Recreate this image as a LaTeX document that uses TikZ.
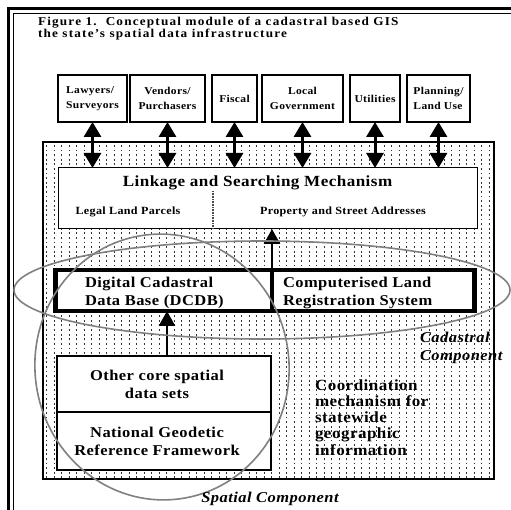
\documentclass[tikz,border=0pt]{standalone}
\usepackage{fontspec}
\setmainfont{Liberation Serif}[FakeStretch=1.1, LetterSpace=3]
\usetikzlibrary{arrows.meta}
\begin{document}
\begin{tikzpicture}[x=1pt,y=-1pt,
  every node/.style={inner sep=0pt, outer sep=0pt},
  party/.style={draw=black, line width=1.2pt, fill=white, minimum height=47pt,
    font=\bfseries\fontsize{10.5}{15}\selectfont},
  duplex/.style={line width=3pt,
    {Triangle[length=15pt,width=17pt]}-{Triangle[length=15pt,width=17pt]}},
  feed/.style={line width=2.5pt, -{Triangle[length=15pt,width=16pt]}},
  plainbox/.style={draw=black, fill=white, line width=1.3pt},
  heavybox/.style={draw=black, fill=white, line width=4.5pt},
  halo/.style={draw=black!50, line width=1.6pt},
  boxtext/.style={font=\bfseries\fontsize{15}{18}\selectfont},
  tag/.style={font=\bfseries\itshape\fontsize{15}{18}\selectfont},
  captext/.style={anchor=base west,
    font=\bfseries\fontsize{12}{10}\selectfont\addfontfeature{LetterSpace=10}},
]
\useasboundingbox (0,0) rectangle (511,510);
\fill[white] (0,0) rectangle (511,510);

% outer double frame, running off the page at right and bottom
\draw[line width=3pt] (8.7,515) -- (8.7,8.7) -- (515,8.7);
\draw[line width=1.2pt] (13.3,515) -- (13.3,13.3) -- (515,13.3);

% caption
\node[captext] (cap1) at (38,26)
  {Figure 1.\ \ Conceptual module of a cadastral based GIS};
\node[captext] (cap2) at (38,37.5)
  {the state's spatial data infrastructure};

% dotted coordination area
\draw[line width=1.5pt] (43,142) rectangle (494,479);
\begin{scope}
  \clip (44,143) rectangle (493,478);
  \foreach \r in {0,...,72}
    \draw[line width=1.8pt, dash pattern=on 1.3pt off 6.2pt, black!80]
      (46,146+\r*4.6) -- (493,146+\r*4.6);
\end{scope}

% user groups
\node[party, minimum width=69pt, align=left] (p1) at (92.5,98.5) {Lawyers/\\Surveyors};
\node[party, minimum width=75pt, align=center] (p2) at (167.5,98.5) {Vendors/\\Purchasers};
\node[party, minimum width=45pt] (p3) at (234.5,98.5) {Fiscal};
\node[party, minimum width=81pt, align=center] (p4) at (302.5,98.5) {Local\\Government};
\node[party, minimum width=50pt] (p5) at (375,98.5) {Utilities};
\node[party, minimum width=63pt, align=left] (p6) at (438.5,98.5) {Planning/\\Land Use};

% linkage and searching mechanism
\node[plainbox, line width=1pt, minimum width=419pt, minimum height=61pt] (link) at (267.5,198.5) {};
\node[anchor=base, font=\bfseries\fontsize{15.5}{18}\selectfont] (linktitle) at (257.5,187)
  {Linkage and Searching Mechanism};
\node[anchor=base, font=\bfseries\fontsize{11}{12}\selectfont] (parcels) at (128,215)
  {Legal Land Parcels};
\node[anchor=base, font=\bfseries\fontsize{11}{12}\selectfont] (addresses) at (343,215)
  {Property and Street Addresses};
\draw[line width=2.5pt, dash pattern=on 0.8pt off 0.8pt, black!70] (213,191) -- (213,228);

% cadastral core
\node[heavybox, minimum width=216.5pt, minimum height=41pt] (dcdb) at (163.75,290.5) {};
\node[heavybox, minimum width=202.5pt, minimum height=41pt] (clrs) at (373.25,290.5) {};
\node[boxtext, anchor=base west, align=left] (dcdbtext) at (85,306)
  {Digital Cadastral\\Data Base (DCDB)};
\node[boxtext, anchor=base west, align=left] (clrstext) at (283,306)
  {Computerised Land\\Registration System};

% spatial core
\node[plainbox, minimum width=214pt, minimum height=56pt] (core) at (164,384) {};
\node[plainbox, minimum width=214pt, minimum height=58pt] (ngrf) at (164,441) {};
\node[boxtext, anchor=base, align=center] (coretext) at (157,398)
  {Other core spatial\\data sets};
\node[boxtext, anchor=base, align=center] (ngrftext) at (157,455)
  {National Geodetic\\Reference Framework};

\node[anchor=base west, align=left, font=\bfseries\fontsize{15.5}{16.2}\selectfont] (coord) at (315,455)
  {Coordination\\mechanism for\\statewide\\geographic\\information};

% connectors
\foreach \p in {p1,p2,p3,p4,p5,p6}
  \draw[duplex] (\p.south) -- (\p.south |- link.north);
\draw[feed] (dcdb.north east) -- (dcdb.north east |- link.south);
\draw[feed] ([xshift=3pt]core.north) -- ([xshift=3pt]core.north |- dcdb.south);

% component outlines
\draw[halo] (262,290) ellipse [x radius=248, y radius=49];
\draw[halo, rotate around={8:(162,367)}] (162,367) ellipse [x radius=127, y radius=133];

\node[tag, anchor=base west, align=left] (cadtag) at (420,360) {Cadastral\\Component};
\node[tag, anchor=base] (spatag) at (270,502) {Spatial Component};
\end{tikzpicture}
\end{document}
